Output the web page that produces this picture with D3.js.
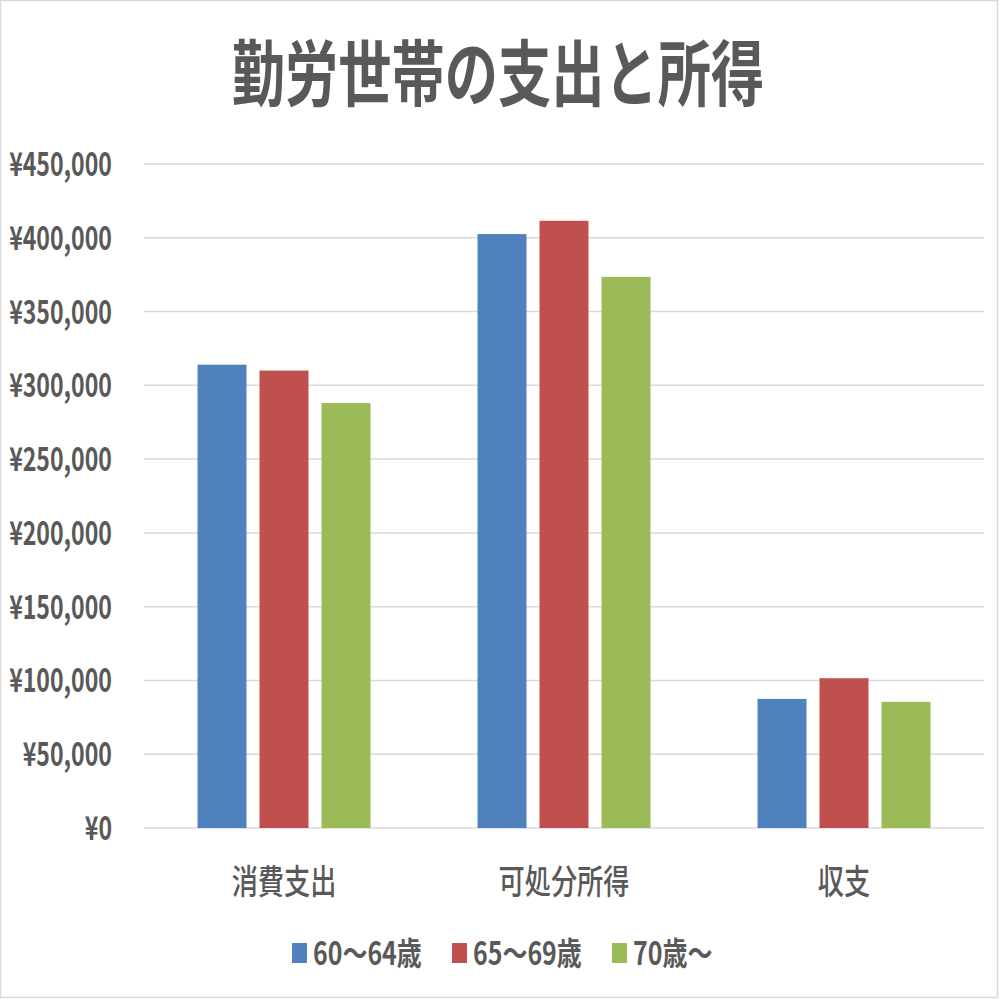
<!DOCTYPE html>
<html><head><meta charset="utf-8">
<script src="https://cdn.jsdelivr.net/npm/d3@7"></script>
<style>body{margin:0;background:#fff}svg{display:block}</style>
</head><body>
<script>
const title = "勤労世帯の支出と所得";
const categories = ["消費支出", "可処分所得", "収支"];
const seriesNames = ["60～64歳", "65～69歳", "70歳～"];
const values6064 = [314000, 402500, 87500];
const values6569 = [310000, 411500, 101500];
const values70 = [288000, 373500, 85500];
const seriesValues = [values6064, values6569, values70];
const colors = ["#4F81BD", "#C0504D", "#9BBB59"];
const yTicks = [0, 50000, 100000, 150000, 200000, 250000, 300000, 350000, 400000, 450000];

const W = 999, H = 999, SX = 0.75;
const FONT = "'Noto Sans CJK JP','Noto Sans',sans-serif";
const svg = d3.select("body").append("svg").attr("width", W).attr("height", H);
svg.append("rect").attr("x",0.5).attr("y",0.5).attr("width",W-2).attr("height",H-2)
  .attr("fill","#fff").attr("stroke","#d9d9d9").attr("stroke-width",1.5);

function txt(x, y, s, size, weight, anchor, sx) {
  return svg.append("g").attr("transform", `translate(${x},${y}) scale(${sx||SX},1)`)
    .append("text").attr("text-anchor", anchor).attr("font-family", FONT)
    .attr("font-size", size).attr("font-weight", weight).attr("fill", "#595959").text(s);
}

const x0 = d3.scaleBand().domain(categories).range([144, 984]).padding(0);
const groupW = 173;
const x1 = d3.scaleBand().domain(d3.range(3)).range([(x0.bandwidth()-groupW)/2, (x0.bandwidth()+groupW)/2]).paddingInner(0.21).paddingOuter(0);
const y = d3.scaleLinear().domain([0, 450000]).range([828, 164]);

// gridlines
svg.append("g").selectAll("line").data(yTicks).join("line")
  .attr("x1", 144).attr("x2", 984).attr("y1", d => y(d)).attr("y2", d => y(d))
  .attr("stroke", "#d9d9d9").attr("stroke-width", 1.5);

// y labels
const fmt = d => "¥" + d3.format(",")(d);
yTicks.forEach(t => txt(112, y(t) + 12, fmt(t), 33, 700, "end", 0.70));

// bars
seriesValues.forEach((vals, si) => {
  svg.append("g").selectAll("rect").data(vals).join("rect")
    .attr("x", (d, i) => x0(categories[i]) + x1(si))
    .attr("width", x1.bandwidth())
    .attr("y", d => y(d))
    .attr("height", d => y(0) - y(d))
    .attr("fill", colors[si]);
});

// category labels
categories.forEach(c => txt(x0(c) + x0.bandwidth()/2, 894, c, 34, 500, "middle", 0.77));

// title
txt(498, 100, title, 72, 700, "middle", 0.74);

// legend
const legX = [292, 452, 612];
seriesNames.forEach((s, i) => {
  svg.append("rect").attr("x", legX[i]).attr("y", 943).attr("width", 15).attr("height", 20).attr("fill", colors[i]);
  txt(legX[i] + 21, 965, s, 32, 700, "start", 0.78);
});
</script>
</body></html>
